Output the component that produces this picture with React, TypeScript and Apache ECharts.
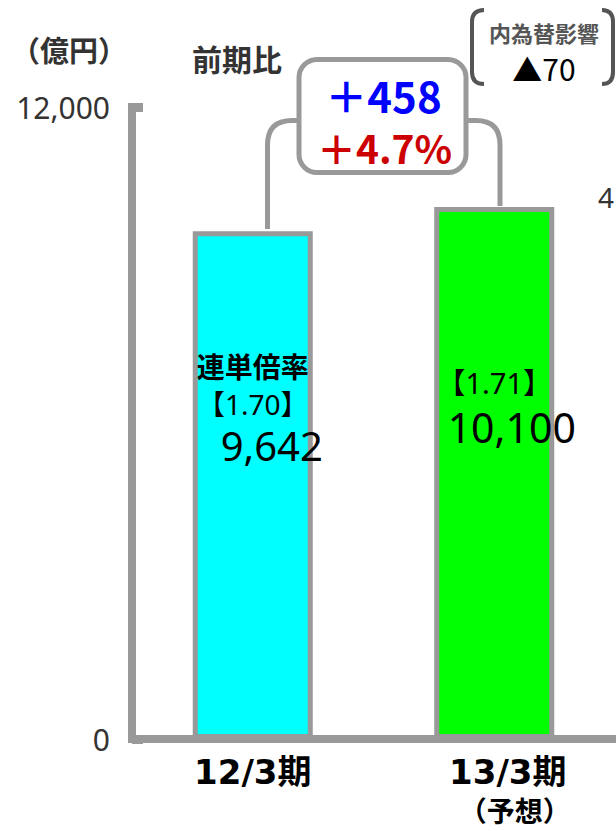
import React, { useEffect, useRef } from 'react';
import * as echarts from 'echarts';

const categories = ['12/3期', '13/3期'];
const categoryNotes = ['', '（予想）'];
const salesValues = [9642, 10100];
const ratioLabels = ['【1.70】', '【1.71】'];
const ratioTitle = '連単倍率';
const barColors = ['#00ffff', '#00ff00'];
const yMin = 0;
const yMax = 12000;
const unitLabel = '（億円）';
const yoyTitle = '前期比';
const yoyAbs = '＋458';
const yoyPct = '＋4.7%';
const fxTitle = '内為替影響';
const fxValue = '▲70';
const edgeText = '4';

const CONNECTOR_D =
  'M 299 120.5 L 292 120.5 Q 267.5 120.5 267.5 145 L 267.5 229 M 466 120.5 L 476 120.5 Q 500 120.5 500 145 L 500 206';
const BRACKET_D =
  'M 484 10 Q 472 10 472 22 L 472 72 Q 472 84 484 84 M 602 10 Q 613 10 613 22 L 613 72 Q 613 84 602 84';

let registered = false;
function registerShapes() {
  if (registered) return;
  registered = true;
  echarts.graphic.registerShape('connectorPath', echarts.graphic.extendPath(CONNECTOR_D, {}));
  echarts.graphic.registerShape('bracketPath', echarts.graphic.extendPath(BRACKET_D, {}));
}

const fmt = (v: number) => v.toLocaleString('en-US');
const CJK = '"Noto Sans CJK JP", "Noto Sans", sans-serif';
const LATIN = '"Noto Sans", "Noto Sans CJK JP", sans-serif';

export default function App() {
  const ref = useRef<HTMLDivElement>(null);
  useEffect(() => {
    if (!ref.current) return;
    registerShapes();
    const chart = echarts.init(ref.current, null, { renderer: 'svg' });

    const labelCfgs = [
      {
        show: true,
        position: [60, 117],
        align: 'center',
        verticalAlign: 'top',
        formatter: `{t|${ratioTitle}}\n{r|${ratioLabels[0]}}\n{v|${fmt(salesValues[0])}}`,
        rich: {
          t: { fontSize: 28, fontWeight: 'bold', fontFamily: CJK, color: '#000', lineHeight: 36 },
          r: { fontSize: 28, fontFamily: LATIN, color: '#000', lineHeight: 40 },
          v: { fontSize: 40, fontFamily: LATIN, color: '#000', lineHeight: 42, padding: [0, 0, 0, 38] },
        },
      },
      {
        show: true,
        position: [60, 151],
        align: 'center',
        verticalAlign: 'top',
        formatter: `{r|${ratioLabels[1]}}\n{v|${fmt(salesValues[1])}}`,
        rich: {
          r: { fontSize: 29, fontFamily: LATIN, color: '#000', lineHeight: 48 },
          v: { fontSize: 41, fontFamily: LATIN, color: '#000', lineHeight: 42, padding: [0, 0, 0, 35] },
        },
      },
    ];

    const option: any = {
      animation: false,
      grid: { left: 132, right: 1, top: 107, bottom: 92, outerBoundsMode: 'none', containLabel: false },
      xAxis: {
        type: 'category',
        data: categories,
        axisLine: { show: true, lineStyle: { color: '#999999', width: 8, cap: 'square' } },
        axisTick: { show: false },
        axisLabel: {
          margin: 15,
          interval: 0,
          formatter: (v: string, i: number) =>
            categoryNotes[i] ? `{b|${v}}\n{c|${categoryNotes[i]}}` : `{a|${v}}`,
          rich: {
            a: { fontSize: 34, fontWeight: 'bold', fontFamily: '"DejaVu Sans", "Noto Sans CJK JP"', color: '#000', lineHeight: 36 },
            b: { fontSize: 34, fontWeight: 'bold', fontFamily: '"DejaVu Sans", "Noto Sans CJK JP"', color: '#000', lineHeight: 36, padding: [0, 0, 0, 27] },
            c: { fontSize: 28, fontWeight: 'bold', fontFamily: CJK, color: '#000', lineHeight: 40, padding: [0, 0, 0, 41] },
          },
        },
        splitLine: { show: false },
      },
      yAxis: {
        type: 'value',
        min: yMin,
        max: yMax,
        interval: yMax - yMin,
        axisLine: { show: true, lineStyle: { color: '#999999', width: 8, cap: 'square' } },
        axisTick: { show: true, inside: true, length: 11, lineStyle: { color: '#999999', width: 9 } },
        axisLabel: { fontSize: 30, fontFamily: LATIN, color: '#333333', margin: 22, formatter: (v: number) => fmt(v) },
        splitLine: { show: false },
      },
      series: [
        {
          type: 'bar',
          barWidth: 120,
          data: salesValues.map((v, i) => ({
            value: v,
            itemStyle: { color: barColors[i], borderColor: '#999999', borderWidth: 5 },
            label: labelCfgs[i],
          })),
        },
      ],
      graphic: [
        { type: 'connectorPath', x: 0, y: 0, z: 1, shape: {}, style: { stroke: '#999999', lineWidth: 5, fill: 'none' } },
        {
          type: 'rect', z: 2,
          shape: { x: 299, y: 59.5, width: 167, height: 113, r: 18 },
          style: { fill: '#ffffff', stroke: '#999999', lineWidth: 5 },
        },
        { type: 'text', z: 3, x: 383.5, y: 94, style: { text: yoyAbs, fontSize: 42, fontWeight: 'bold', fontFamily: CJK, fill: '#0000ff', align: 'center', verticalAlign: 'middle' } },
        { type: 'text', z: 3, x: 384.5, y: 147, style: { text: yoyPct, fontSize: 39, fontWeight: 'bold', fontFamily: CJK, fill: '#cc0000', align: 'center', verticalAlign: 'middle' } },
        { type: 'bracketPath', x: 0, y: 0, z: 1, shape: {}, style: { stroke: '#555555', lineWidth: 4, fill: 'none' } },
        { type: 'text', z: 3, x: 544, y: 32, style: { text: fxTitle, fontSize: 22, fontWeight: 'bold', fontFamily: CJK, fill: '#555555', align: 'center', verticalAlign: 'middle' } },
        { type: 'text', z: 3, x: 544, y: 68, style: { text: fxValue, fontSize: 30, fontFamily: CJK, fill: '#000000', align: 'center', verticalAlign: 'middle' } },
        { type: 'text', z: 3, x: 11, y: 49, style: { text: unitLabel, fontSize: 29, fontWeight: 'bold', fontFamily: CJK, fill: '#333333', align: 'left', verticalAlign: 'middle' } },
        { type: 'text', z: 3, x: 192, y: 58, style: { text: yoyTitle, fontSize: 30, fontWeight: 'bold', fontFamily: CJK, fill: '#333333', align: 'left', verticalAlign: 'middle' } },
        { type: 'text', z: 3, x: 598, y: 197, style: { text: edgeText, fontSize: 28, fontFamily: LATIN, fill: '#333333', align: 'left', verticalAlign: 'middle' } },
      ],
    };
    chart.setOption(option);
    return () => chart.dispose();
  }, []);
  return <div ref={ref} style={{ position: 'absolute', left: 0, top: 0, width: 616, height: 831 }} />;
}
